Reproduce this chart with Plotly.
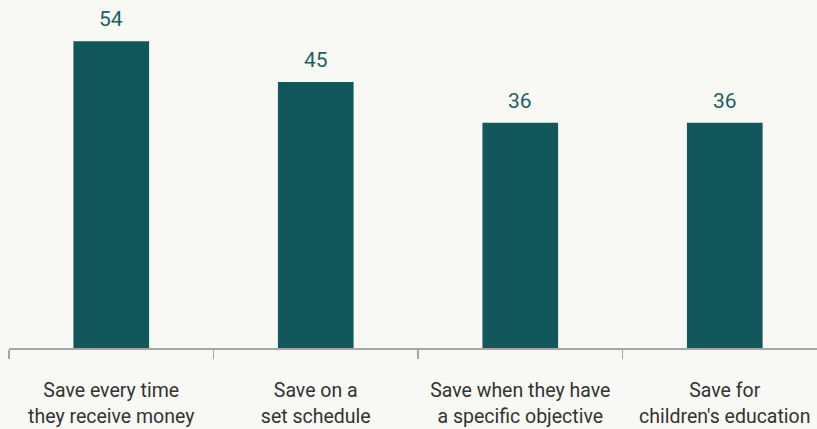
import plotly.graph_objects as go

categories = [
    "Save every time<br>they receive money",
    "Save on a<br>set schedule",
    "Save when they have<br>a specific objective",
    "Save for<br>children's education",
]
values = [54, 45, 36, 36]
value_labels = ["54", "45", "36", "36"]

# axis floor (bars drawn from the bottom of the value axis)
Y_MIN = -13.8
Y_MAX = 63.1

BAR = "#12575B"
FONT = "Roboto, Open Sans, sans-serif"

fig = go.Figure(
    go.Bar(
        x=categories,
        y=[v - Y_MIN for v in values],
        base=Y_MIN,
        width=0.37,
        marker=dict(color=BAR, line=dict(width=0)),
        cliponaxis=False,
        hoverinfo="skip",
    )
)

for c, v, t in zip(categories, values, value_labels):
    fig.add_annotation(
        x=c, y=v, text=t, showarrow=False,
        yanchor="bottom", yshift=8,
        font=dict(family=FONT, size=21, color="#1D5F63"),
    )

fig.update_layout(
    width=817,
    height=429,
    margin=dict(l=9, r=0, t=0, b=81),
    paper_bgcolor="#F8F8F4",
    plot_bgcolor="#F8F8F4",
    showlegend=False,
    font=dict(family=FONT, size=19.5, color="#333333"),
)

fig.update_xaxes(
    type="category",
    range=[-0.5, 3.451],
    showline=True,
    linecolor="#A6A6A6",
    linewidth=2,
    ticks="outside",
    tickson="boundaries",
    ticklen=9,
    tickwidth=1.5,
    tickcolor="#A6A6A6",
    showgrid=False,
    ticklabelstandoff=24,
    tickfont=dict(family=FONT, size=19.5, color="#333333"),
    fixedrange=True,
)
fig.update_yaxes(
    range=[Y_MIN, Y_MAX],
    visible=False,
    showgrid=False,
    zeroline=False,
    fixedrange=True,
)

fig.write_html(
    "out.html",
    config={"displayModeBar": False, "staticPlot": True},
    post_script="document.body.style.margin='0';document.body.style.background='#F8F8F4';",
)
